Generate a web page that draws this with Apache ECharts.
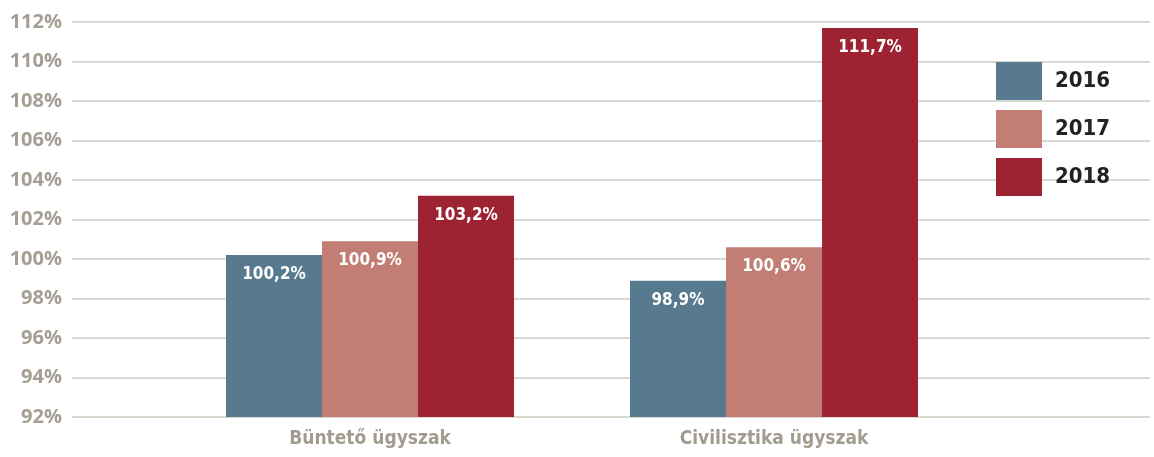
<!DOCTYPE html>
<html>
<head>
<meta charset="utf-8">
<script src="https://cdn.jsdelivr.net/npm/echarts@6/dist/echarts.min.js"></script>
<style>
  html, body { margin: 0; padding: 0; background: #fff; }
  #chart { width: 1154px; height: 457px; }
</style>
</head>
<body>
<div id="chart"></div>
<script>
var categories = ['Büntető ügyszak', 'Civilisztika ügyszak'];
var years = ['2016', '2017', '2018'];
var values2016 = [100.2, 98.9];
var values2017 = [100.9, 100.6];
var values2018 = [103.2, 111.7];
var yTicks = { min: 92, max: 112, interval: 2 };

var colors = ['#587a8f', '#c27d75', '#9d2332'];
var narrow = '"DejaVu Sans Condensed", "Liberation Sans Narrow", sans-serif';

var chartDom = document.getElementById('chart');
var myChart = echarts.init(chartDom);

function barSeries(name, data, color) {
    return {
        name: name,
        type: 'bar',
        xAxisIndex: 1,
        yAxisIndex: 1,
        data: data,
        barWidth: 96,
        barGap: '0%',
        itemStyle: { color: color },
        label: {
            show: true,
            position: 'insideTop',
            distance: 11,
            color: '#fff',
            fontFamily: narrow,
            fontWeight: 'bold',
            fontSize: 17,
            formatter: function (p) {
                return p.value.toFixed(1).replace('.', ',') + '%';
            }
        }
    };
}

var option = {
    animation: false,
    color: colors,
    grid: [
        { left: 72, right: 4, top: 22, bottom: 40 },
        { left: 168, right: 178, top: 22, bottom: 40 }
    ],
    legend: {
        orient: 'vertical',
        left: 996,
        top: 62,
        padding: 0,
        itemWidth: 46,
        itemHeight: 38,
        itemGap: 10,
        icon: 'rect',
        data: years,
        textStyle: {
            color: '#222',
            fontFamily: narrow,
            fontWeight: 'bold',
            fontSize: 22,
            padding: [0, 0, 0, 8]
        }
    },
    xAxis: [
        {
            gridIndex: 0,
            type: 'category',
            data: categories,
            show: false
        },
        {
            gridIndex: 1,
            type: 'category',
            data: categories,
            axisLine: { show: false },
            axisTick: { show: false },
            axisLabel: {
                margin: 13,
                color: '#a29c90',
                fontFamily: narrow,
                fontWeight: 'bold',
                fontSize: 19
            }
        }
    ],
    yAxis: [
        {
            gridIndex: 0,
            type: 'value',
            min: yTicks.min,
            max: yTicks.max,
            interval: yTicks.interval,
            axisLine: { show: false },
            axisTick: { show: false },
            axisLabel: {
                margin: 10,
                color: '#a59f93',
                fontFamily: '"Open Sans", sans-serif',
                fontWeight: 'bold',
                fontSize: 20,
                formatter: '{value}%'
            },
            splitLine: { lineStyle: { color: '#d8d8ce', width: 2 } }
        },
        {
            gridIndex: 1,
            type: 'value',
            min: yTicks.min,
            max: yTicks.max,
            interval: yTicks.interval,
            show: false,
            splitLine: { show: false }
        }
    ],
    series: [
        barSeries(years[0], values2016, colors[0]),
        barSeries(years[1], values2017, colors[1]),
        barSeries(years[2], values2018, colors[2])
    ]
};

option && myChart.setOption(option);
</script>
</body>
</html>
